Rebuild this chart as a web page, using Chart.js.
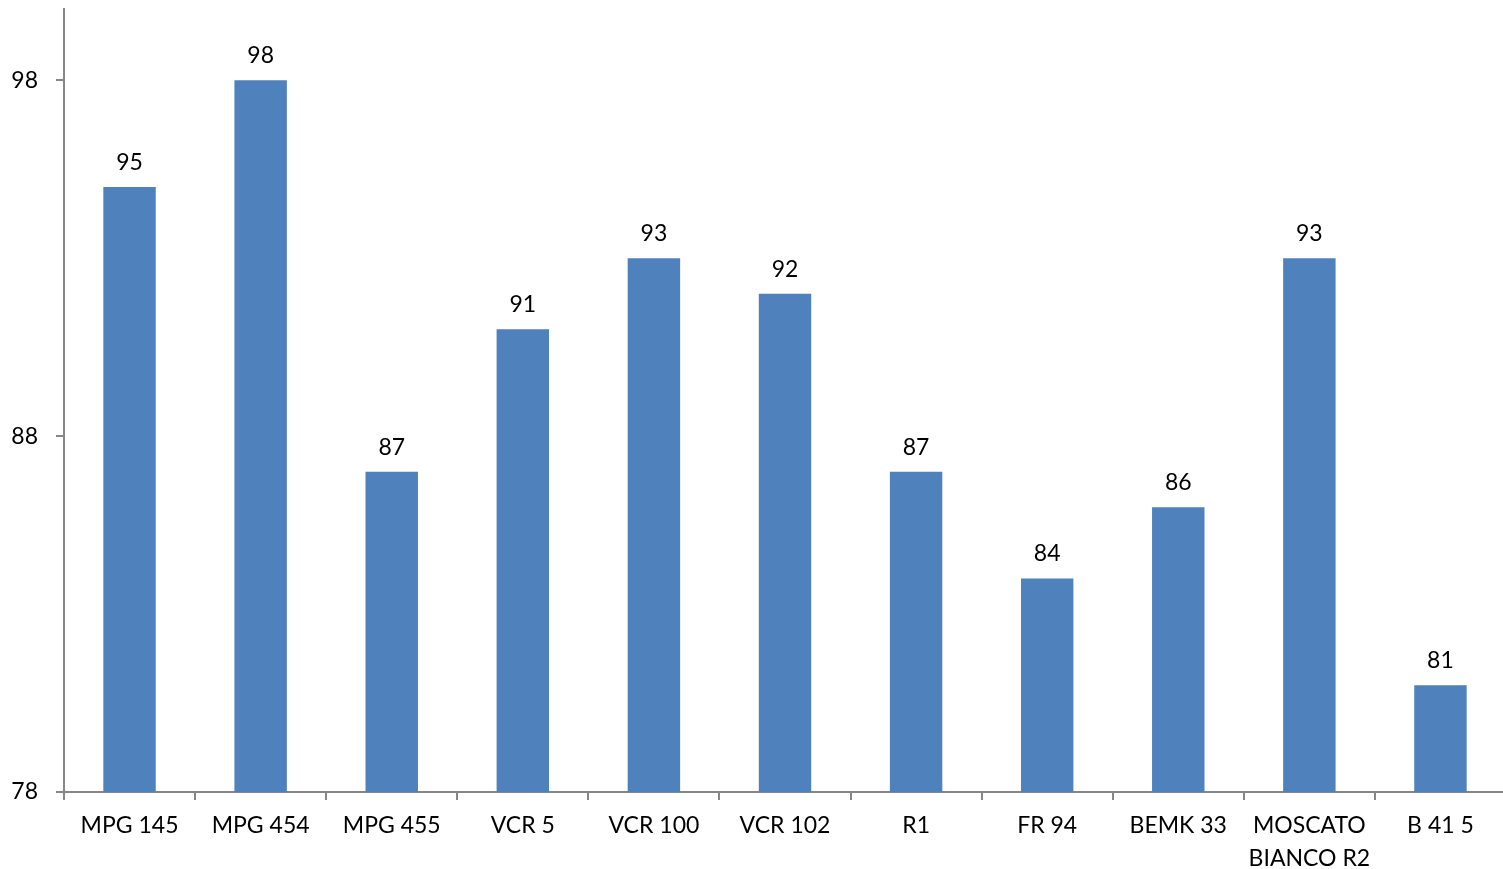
<!DOCTYPE html>
<html>
<head>
<meta charset="utf-8">
<script src="https://cdn.jsdelivr.net/npm/chart.js@4"></script>
<style>
  html, body { margin: 0; padding: 0; background: #fff; overflow: hidden; }
  #wrap { width: 1503px; height: 869px; overflow: hidden; }
</style>
</head>
<body>
<div id="wrap"><canvas id="chart" width="1506" height="869"></canvas></div>
<script>
const categories = ['MPG 145', 'MPG 454', 'MPG 455', 'VCR 5', 'VCR 100', 'VCR 102', 'R1', 'FR 94', 'BEMK 33', ['MOSCATO', 'BIANCO R2'], 'B 41 5'];
const values = [95, 98, 87, 91, 93, 92, 87, 84, 86, 93, 81];
const yTicks = [78, 88, 98];

const fontFamily = 'Lato, "Open Sans", sans-serif';
const axisColor = '#868686';

// draws the value above each bar
const valueLabels = {
    id: 'valueLabels',
    afterDatasetsDraw(chart) {
        const ctx = chart.ctx;
        const meta = chart.getDatasetMeta(0);
        ctx.save();
        ctx.font = '23px ' + fontFamily;
        ctx.fillStyle = '#000';
        ctx.textAlign = 'center';
        ctx.textBaseline = 'alphabetic';
        meta.data.forEach((bar, i) => {
            ctx.fillText(String(values[i]), bar.x, bar.y - 17);
        });
        ctx.restore();
    }
};

const ctx = document.getElementById('chart').getContext('2d');
const chart = new Chart(ctx, {
    type: 'bar',
    data: {
        labels: categories,
        datasets: [{
            data: values,
            backgroundColor: '#4F81BD',
            borderWidth: 0,
            barPercentage: 0.4,
            categoryPercentage: 1.0
        }]
    },
    options: {
        responsive: false,
        animation: false,
        layout: { padding: { top: 9, right: 0, left: 0, bottom: 0 } },
        plugins: {
            legend: { display: false },
            tooltip: { enabled: false }
        },
        scales: {
            x: {
                offset: true,
                grid: {
                    offset: true,
                    drawOnChartArea: false,
                    drawTicks: true,
                    tickLength: 8,
                    color: axisColor,
                    lineWidth: 2
                },
                border: { color: axisColor, width: 2 },
                ticks: {
                    color: '#000',
                    padding: 9,
                    maxRotation: 0,
                    autoSkip: false,
                    font: { family: fontFamily, size: 23, lineHeight: 1.45 }
                },
                afterFit(scale) {
                    scale.height = 77;
                    scale.paddingLeft = 0;
                    scale.paddingRight = 0;
                }
            },
            y: {
                min: 78,
                max: 100,
                afterBuildTicks(scale) {
                    scale.ticks = yTicks.map(v => ({ value: v }));
                },
                grid: {
                    drawOnChartArea: false,
                    drawTicks: true,
                    tickLength: 8,
                    color: axisColor,
                    lineWidth: 2
                },
                border: { color: axisColor, width: 2 },
                ticks: {
                    color: '#000',
                    padding: 18,
                    font: { family: fontFamily, size: 23 }
                },
                afterFit(scale) {
                    scale.width = 64;
                    scale.paddingTop = 0;
                    scale.paddingBottom = 0;
                }
            }
        }
    },
    plugins: [valueLabels]
});
</script>
</body>
</html>
